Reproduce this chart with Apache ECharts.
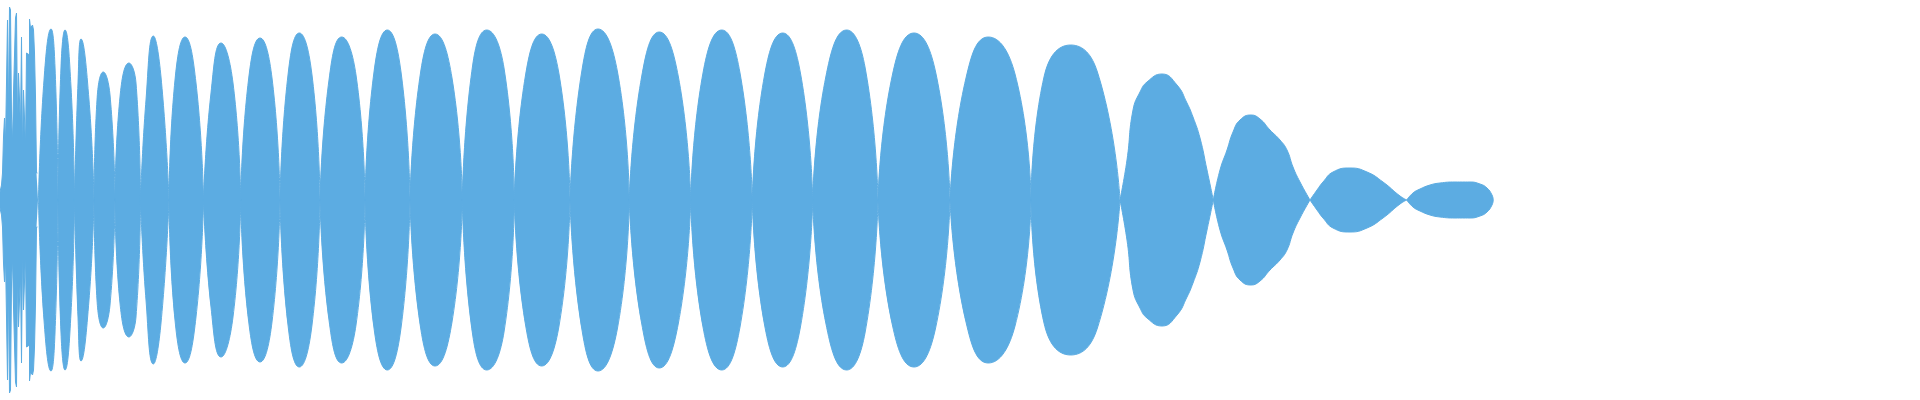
<!DOCTYPE html>
<html>
<head>
<meta charset="utf-8">
<script src="https://cdn.jsdelivr.net/npm/echarts@6/dist/echarts.min.js"></script>
<style>
  html, body { margin: 0; padding: 0; background: #ffffff; }
  #chart { width: 1920px; height: 400px; }
</style>
</head>
<body>
<div id="chart"></div>
<script>
// Onset (noisy start), sample position and amplitude
const onsetX = [0,1,2,3,4,5,6,7,8,9,10,11,12,13,14,15,16,17,18,19,20,21,22,23,24,25,26,27,28,29,30,31,32,33,34,35,36,37,38];
const onsetAmp = [8,10,15,27,63,82,57,117,180,83,193,190,83,57,107,107,182,187,73,127,127,73,163,47,110,110,53,147,147,145,181,172,172,175,170,147,103,27,27];

// Main waveform lobes: position and amplitude (null = break between lobes)
const bodyX = [
  38.5,44,51,55,58, 58,
  58,61,65,71,74.5, 74.5,
  74.5,78,81,89,94, 94,
  94,97,103.3,110,115, 115,
  115,120,129,136,140.5, 140.5,
  140.5,146,153.3,161,169, 169,
  169,175,185,196,203.5, 203.5,
  203.5,211,221,233,240.7, 240.7,
  240.7,248.5,260,272,280, 280,
  280,288,299.3,312,320, 320,
  320,329,341.7,356,365, 365,
  365,374,387.3,401,410, 410,
  410,420.5,435,452,462.3, 462.3,
  462.3,472.7,486.7,504,514.3, 514.3,
  514.3,525.4,541.7,559,570, 570,
  570,582,598,617.5,629.3, 629.3,
  629.3,641.6,659.3,678.4,690.7, 690.7,
  690.7,703,721.7,740,752.3, 752.3,
  752.3,764.4,782.7,800.6,812.7, 812.7,
  812.7,825.8,846.7,865,878, 878,
  878,892.4,914,935.6,950, 950,
  950,966,988.3,1015,1031, 1031,
  1031,1044,1070.7,1097.4,1120, 1120,
  1120,1127,1133,1140,1147,1162,1177,1187,1193,1200,1207,1213.3, 1213.3,
  1213.3,1220,1227,1233,1240,1251,1260,1270,1280,1287,1293,1300,1310, 1310,
  1310,1317,1323,1333,1350,1367,1383,1400,1406.7, 1406.7,
  1406.7,1413,1420,1430,1440,1455,1470,1480,1487,1492,1493.3
];
const bodyAmp = [
  0,120,171,133,0, null,
  0,133,170,113,0, null,
  0,117,161,100,0, null,
  0,100,128,105,0, null,
  0,103,137,117,0, null,
  0,100,164,123,0, null,
  0,120,163,117,0, null,
  0,107,157,117,0, null,
  0,120,162,122,0, null,
  0,125,167,125,0, null,
  0,120,163,125,0, null,
  0,128,170,128,0, null,
  0,127,166,122,0, null,
  0,135,170,132,0, null,
  0,124,166,126,0, null,
  0,130,171,128,0, null,
  0,123,168,123,0, null,
  0,127,170,127,0, null,
  0,124,167,126,0, null,
  0,123,170,133,0, null,
  0,125,167,128,0, null,
  0,122,163,126,0, null,
  0,123,155,128,0, null,
  0,40,90,108,118,126,115,97,83,62,30,0, null,
  0,30,50,68,80,85,81,70,60,50,33,18,0, null,
  0,10,18,28,32,28,18,4,0, null,
  0,7,11,15,17,18,18,16,12,5,0
];

const COLOR = '#5cace2';

function pairs(xs, amps, sign) {
  return xs.map(function (x, i) {
    return [x, amps[i] === null ? null : sign * amps[i]];
  });
}

const chart = echarts.init(document.getElementById('chart'), null, { renderer: 'canvas' });

function lineSeries(data, extra) {
  return Object.assign({
    type: 'line',
    data: data,
    symbol: 'none',
    connectNulls: false,
    silent: true,
    lineStyle: { color: COLOR, width: 1 },
    itemStyle: { color: COLOR },
    areaStyle: { color: COLOR, opacity: 1 }
  }, extra);
}

chart.setOption({
  animation: false,
  backgroundColor: '#ffffff',
  grid: { left: 0, right: 0, top: 0, bottom: 0 },
  xAxis: { type: 'value', min: 0, max: 1920, show: false },
  yAxis: { type: 'value', min: -200, max: 200, show: false },
  series: [
    lineSeries(pairs(onsetX, onsetAmp, 1), { step: 'middle' }),
    lineSeries(pairs(onsetX, onsetAmp, -1), { step: 'middle' }),
    lineSeries(pairs(bodyX, bodyAmp, 1), { smooth: 0.5 }),
    lineSeries(pairs(bodyX, bodyAmp, -1), { smooth: 0.5 })
  ]
});
</script>
</body>
</html>
